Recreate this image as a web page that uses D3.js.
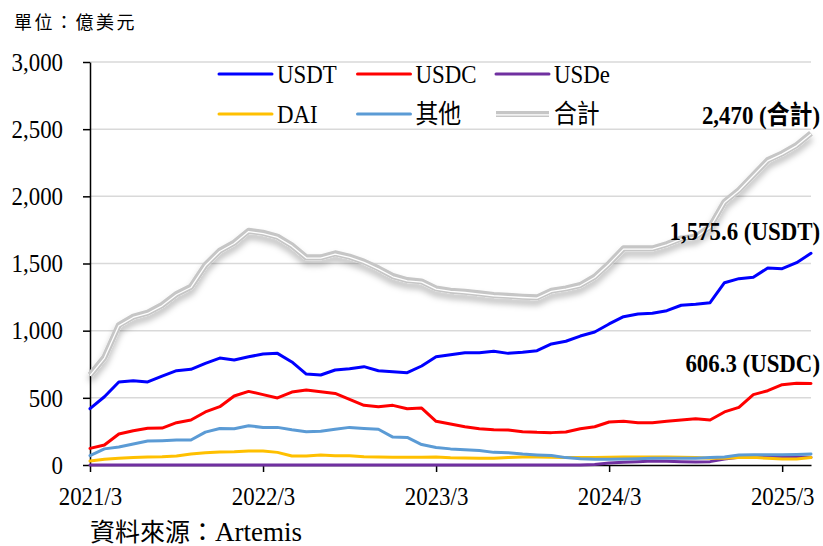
<!DOCTYPE html>
<html>
<head>
    <meta charset="UTF-8">
    <title>Stablecoin supply</title>
    <script src="https://d3js.org/d3.v7.min.js"></script>
    <style>
        body { margin: 0; background: white; }
        text { font-family: "Liberation Serif", "Noto Sans CJK TC", serif; fill: #000; }
        .tick text { font-size: 26px; }
        .label-legend { font-size: 26px; }
        .label-end { font-size: 26px; font-weight: bold; }
    </style>
</head>
<body>
<script>
    var width = 823, height = 546;
    var SX = 0.88; // the original picture is a little squeezed sideways

    // monthly, 2021/3 .. 2025/5
    var months = [];
    for (var m = 0; m < 51; m++) {
        var mm = 2 + m; // months since 2021/1 (0-based)
        months.push((2021 + Math.floor(mm / 12)) + "/" + (mm % 12 + 1));
    }
    var xTicks = ["2021/3", "2022/3", "2023/3", "2024/3", "2025/3"];
    var yTicks = [0, 500, 1000, 1500, 2000, 2500, 3000];

    var usdt = [419, 508, 618, 628, 618, 662, 702, 712, 757, 796, 782, 806, 826, 831, 767, 677, 670,
        707, 717, 732, 702, 695, 687, 737, 806, 821, 836, 836, 846, 831, 839, 851, 901, 921,
        960, 990, 1050, 1104, 1124, 1129, 1149, 1189, 1196, 1208, 1357, 1387, 1397, 1467, 1461, 1506, 1575.6];
    var usdc = [124, 149, 231, 255, 273, 275, 315, 335, 395, 434, 514, 548, 524, 499, 543, 558, 546,
        533, 489, 444, 434, 444, 419, 424, 325, 305, 285, 270, 263, 261, 248, 243, 241, 246,
        270, 285, 320, 325, 315, 315, 325, 335, 345, 335, 395, 429, 524, 553, 598, 608, 606.3];
    var usde = [0, 0, 0, 0, 0, 0, 0, 0, 0, 0, 0, 0, 0, 0, 0, 0, 0,
        0, 0, 0, 0, 0, 0, 0, 0, 0, 0, 0, 0, 0, 0, 0, 0, 0,
        0, 3, 15, 20, 25, 30, 27, 24, 23, 25, 45, 58, 59, 60, 62, 60, 58];
    var dai = [30, 42, 50, 55, 60, 62, 67, 82, 92, 97, 99, 104, 104, 94, 67, 67, 74,
        69, 69, 62, 60, 57, 57, 57, 60, 54, 52, 50, 50, 55, 60, 60, 57, 55,
        55, 55, 57, 60, 60, 60, 60, 57, 55, 50, 50, 55, 57, 50, 45, 45, 55];
    var others = [70, 120, 134, 157, 178, 181, 186, 186, 245, 272, 270, 292, 280, 280, 262, 247, 252,
        266, 280, 272, 266, 208, 205, 152, 130, 120, 113, 108, 94, 92, 82, 75, 70, 55,
        47, 42, 42, 45, 47, 50, 50, 50, 50, 55, 60, 74, 77, 77, 77, 79, 82];
    var total = [670, 802, 1042, 1104, 1134, 1191, 1273, 1327, 1489, 1595, 1655, 1744, 1729, 1700, 1635, 1546, 1546,
        1576, 1551, 1514, 1464, 1407, 1377, 1367, 1315, 1298, 1290, 1278, 1266, 1260, 1253, 1248, 1298, 1315,
        1340, 1402, 1501, 1613, 1613, 1613, 1645, 1687, 1700, 1774, 1960, 2047, 2159, 2270, 2320, 2382, 2470];

    var series = [
        { name: "USDT", values: usdt, color: "#0000ff" },
        { name: "USDC", values: usdc, color: "#ff0000" },
        { name: "USDe", values: usde, color: "#7030a0" },
        { name: "DAI", values: dai, color: "#ffc000" },
        { name: "其他", values: others, color: "#5b9bd5" },
        { name: "合計", values: total, color: "#c6c6c6", double: true }
    ];

    var svg = d3.select("body").append("svg")
        .attr("width", width).attr("height", height);

    var defs = svg.append("defs");
    defs.append("filter").attr("id", "shadow")
        .attr("x", "-10%").attr("y", "-30%").attr("width", "120%").attr("height", "180%")
        .append("feDropShadow")
        .attr("dx", 0).attr("dy", 5).attr("stdDeviation", 3)
        .attr("flood-color", "#000").attr("flood-opacity", 0.28);

    var x = d3.scalePoint().domain(months).range([90, 811]);
    var y = d3.scaleLinear().domain([0, 3000]).range([465, 62]);

    // gridlines
    svg.append("g").selectAll("line").data(yTicks.slice(1)).enter().append("line")
        .attr("x1", 90).attr("x2", 811)
        .attr("y1", function (d) { return y(d); }).attr("y2", function (d) { return y(d); })
        .attr("stroke", "#d9d9d9").attr("stroke-width", 1.5);

    // axes
    var yAxis = svg.append("g").attr("transform", "translate(90,0)")
        .call(d3.axisLeft(y).tickValues(yTicks).tickSize(7).tickSizeOuter(0).tickPadding(20)
            .tickFormat(d3.format(",")));
    var xAxis = svg.append("g").attr("transform", "translate(0,465)")
        .call(d3.axisBottom(x).tickValues(xTicks).tickSize(7).tickSizeOuter(0).tickPadding(15));

    [yAxis, xAxis].forEach(function (a) {
        a.selectAll("path, line").attr("stroke", "#000").attr("stroke-width", 1.5);
        a.selectAll("text").attr("fill", "#000").attr("font-family", null).attr("font-size", null)
            .attr("transform", "scale(" + SX + ",1)");
    });
    yAxis.selectAll("text").attr("x", -27 / SX);

    // lines
    var line = d3.line()
        .x(function (d, i) { return x(months[i]); })
        .y(function (d) { return y(d); });

    var plot = svg.append("g");
    series.forEach(function (s) {
        if (s.double) {
            var g = plot.append("g").attr("filter", "url(#shadow)");
            g.append("path").attr("d", line(s.values)).attr("fill", "none")
                .attr("stroke", s.color).attr("stroke-width", 6).attr("stroke-linejoin", "round");
            g.append("path").attr("d", line(s.values)).attr("fill", "none")
                .attr("transform", "translate(0,0.8)")
                .attr("stroke", "#fff").attr("stroke-width", 1.3).attr("stroke-linejoin", "round");
        } else {
            plot.append("path").attr("d", line(s.values)).attr("fill", "none")
                .attr("stroke", s.color).attr("stroke-width", 3)
                .attr("stroke-linejoin", "round").attr("stroke-linecap", "round");
        }
    });

    // legend
    var legend = svg.append("g").selectAll(".legends").data(series).enter().append("g")
        .classed("legends", true)
        .attr("transform", function (d, i) {
            return "translate(" + (219 + (i % 3) * 138.5) + "," + (74 + Math.floor(i / 3) * 40) + ")";
        });
    legend.each(function (d) {
        var g = d3.select(this);
        if (d.double) {
            g.append("line").attr("x1", 0).attr("x2", 53).attr("stroke", d.color).attr("stroke-width", 6);
            g.append("line").attr("x1", 0).attr("x2", 53).attr("y1", 0.8).attr("y2", 0.8)
                .attr("stroke", "#fff").attr("stroke-width", 1.3);
        } else {
            g.append("line").attr("x1", 0).attr("x2", 53).attr("stroke", d.color)
                .attr("stroke-width", 3).attr("stroke-linecap", "round");
        }
        g.append("text").classed("label-legend", true)
            .attr("transform", "translate(58,9) scale(" + SX + ",1)")
            .text(d.name);
    });

    // end labels
    var last = months.length - 1;
    var ends = [
        { text: "2,470 (合計)", v: total[last], dy: -9 },
        { text: "1,575.6 (USDT)", v: usdt[last], dy: -13 },
        { text: "606.3 (USDC)", v: usdc[last], dy: -12 }
    ];
    svg.append("g").selectAll("text").data(ends).enter().append("text")
        .classed("label-end", true).attr("text-anchor", "end")
        .attr("transform", function (d) {
            return "translate(820," + (y(d.v) + d.dy) + ") scale(" + SX + ",1)";
        })
        .text(function (d) { return d.text; });

    // unit and source
    svg.append("text").attr("x", 14).attr("y", 29)
        .style("font-family", "'Noto Sans CJK TC'").style("font-size", "18px")
        .style("letter-spacing", "2.5px").text("單位：億美元");
    var src = svg.append("text").attr("x", 90).attr("y", 541).style("font-size", "25px");
    src.append("tspan").text("資料來源：");
    src.append("tspan").style("font-size", "27px").text("Artemis");
</script>
</body>
</html>
